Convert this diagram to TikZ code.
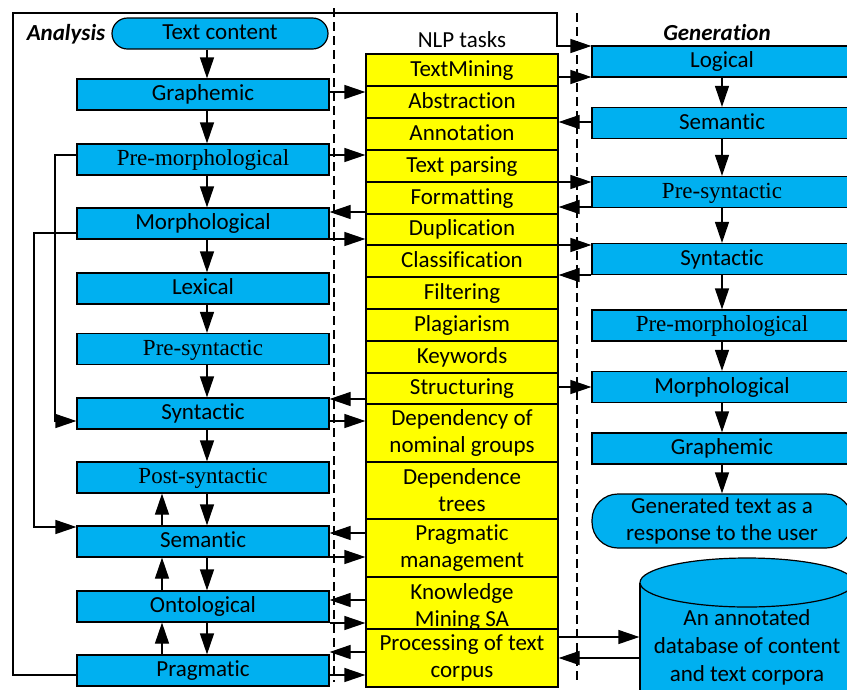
\documentclass[tikz,border=0pt]{standalone}
\usepackage{fontspec}
\setmainfont{Carlito}[Ligatures={NoCommon,NoContextual}]
\newfontfamily\serifrm{Liberation Serif}
\usetikzlibrary{arrows.meta}
\definecolor{bxblue}{HTML}{00B0F0}
\definecolor{bxyellow}{HTML}{FFFF00}
\begin{document}
\begin{tikzpicture}[x=1pt,y=-1pt,line width=1.2pt,
  every node/.style={font=\fontsize{23}{27}\selectfont, inner sep=0pt},
  arr/.style={-{Triangle[length=21pt,width=14pt]}},
  blbox/.style={draw, fill=bxblue, minimum height=31pt, text height=16pt, text depth=4pt},
  lbox/.style={blbox, minimum width=252pt},
  rbox/.style={blbox, minimum width=260pt},
  mbox/.style={draw, fill=bxyellow, minimum width=192pt, minimum height=32pt, text height=16pt, text depth=4pt},
  mbox2/.style={draw, fill=bxyellow, minimum width=192pt, align=center},
  divider/.style={dash pattern=on 9pt off 5pt},
  heading/.style={font=\fontsize{23}{27}\selectfont\bfseries\itshape}
]
\useasboundingbox (0,0) rectangle (847,689);
\clip (0,0) rectangle (847,689);

% dashed dividers
\draw[divider] (334,8) -- (334,682);
\draw[divider] (577,13) -- (577,684);

% coordinates for vertical arrow columns
\coordinate (dx) at (207,0);
\coordinate (ux) at (162,0);

% labels
\node[heading] (lanalysis) at (66,34) {Analysis};
\node (nlp) at (462,40) {NLP tasks};
\node[heading] (lgen) at (717,33) {Generation};

% left column
\node[blbox, rounded corners=15.5pt, minimum width=216pt] (ltext) at (220,33.5) {Text content};
\node[lbox] (lgraph) at (203,94.5) {Graphemic};
\node[lbox] (lpremorph) at (203,159.5) {\serifrm Pre-morphological};
\node[lbox] (lmorph) at (203,223.5) {Morphological};
\node[lbox] (llex) at (203,288.5) {Lexical};
\node[lbox] (lpresyn) at (203,349) {\serifrm Pre-syntactic};
\node[lbox] (lsyn) at (203,413.5) {Syntactic};
\node[lbox] (lpostsyn) at (203,477.5) {\serifrm Post-syntactic};
\node[lbox] (lsem) at (203,541.5) {Semantic};
\node[lbox] (lonto) at (203,606.5) {Ontological};
\node[lbox] (lprag) at (203,670.5) {Pragmatic};

% middle column
\node[mbox] (mtm) at (462,70) {TextMining};
\node[mbox] (mabs) at (462,102) {Abstraction};
\node[mbox] (mann) at (462,134) {Annotation};
\node[mbox] (mparse) at (462,166) {Text parsing};
\node[mbox] (mform) at (462,198) {Formatting};
\node[mbox, minimum height=31pt] (mdup) at (462,229.5) {Duplication};
\node[mbox] (mclass) at (462,261) {Classification};
\node[mbox] (mfilt) at (462,293) {Filtering};
\node[mbox] (mplag) at (462,325) {Plagiarism};
\node[mbox] (mkey) at (462,357) {Keywords};
\node[mbox, minimum height=31pt] (mstruct) at (462,388.5) {Structuring};
\node[mbox2, minimum height=58pt] (mdep) at (462,433) {Dependency of\\nominal groups};
\node[mbox2, minimum height=57pt] (mtree) at (462,490.5) {Dependence\\trees};
\node[mbox2, minimum height=58pt] (mprag) at (462,548) {Pragmatic\\management};
\node[mbox2, minimum height=52pt] (mknow) at (462,603) {};
\node[align=center] (mknowtxt) at (462,607) {Knowledge\\Mining SA};
\node[mbox2, minimum height=58pt] (mproc) at (462,658) {Processing of text\\corpus};

% right column
\node[rbox] (rlog) at (722,61.5) {Logical};
\node[rbox] (rsem) at (722,123) {Semantic};
\node[rbox] (rpresyn) at (722,192) {\serifrm Pre-syntactic};
\node[rbox] (rsyn) at (722,259) {Syntactic};
\node[rbox] (rpremorph) at (722,325.5) {\serifrm Pre-morphological};
\node[rbox] (rmorph) at (722,387) {Morphological};
\node[rbox] (rgraph) at (722,448.5) {Graphemic};
\node[draw, fill=bxblue, rounded corners=26pt, minimum width=260pt, minimum height=54pt, align=center] (rgen) at (722,521) {Generated text as a\\response to the user};

% database cylinder
\fill[bxblue] (640,582.5) rectangle (854,760);
\draw (640,582.5) -- (640,760) (854,582.5) -- (854,760);
\filldraw[fill=bxblue] (747,582.5) ellipse [x radius=107pt, y radius=24.5pt];
\node[minimum width=214pt, align=center, font=\fontsize{23}{28}\selectfont] (db) at (747,647) {An annotated\\database of content\\and text corpora};

% left column vertical arrows
\draw[arr] (ltext.south -| dx) -- (lgraph.north -| dx);
\draw[arr] (lgraph.south -| dx) -- (lpremorph.north -| dx);
\draw[arr] (lpremorph.south -| dx) -- (lmorph.north -| dx);
\draw[arr] (lmorph.south -| dx) -- (llex.north -| dx);
\draw[arr] (llex.south -| dx) -- (lpresyn.north -| dx);
\draw[arr] (lpresyn.south -| dx) -- (lsyn.north -| dx);
\draw[arr] (lsyn.south -| dx) -- (lpostsyn.north -| dx);
\draw[arr] (lpostsyn.south -| dx) -- (lsem.north -| dx);
\draw[arr] (lsem.south -| dx) -- (lonto.north -| dx);
\draw[arr] (lonto.south -| dx) -- (lprag.north -| dx);
\draw[arr] (lsem.north -| ux) -- (lpostsyn.south -| ux);
\draw[arr] (lonto.north -| ux) -- (lsem.south -| ux);
\draw[arr] (lprag.north -| ux) -- (lonto.south -| ux);

% left feedback loops
\draw[arr] (lpremorph.west |- 0,155) -- (55,155) -- (55,421) -- (lsyn.west |- 0,421);
\draw[arr] (lmorph.west |- 0,233) -- (34,233) -- (34,527) -- (lsem.west |- 0,527);
\draw[arr] (lprag.west |- 0,675) -- (13,675) -- (13,13) -- (557,13) -- (557,46) -- (rlog.west |- 0,46);

% left <-> middle
\draw[arr] (lgraph.east |- 0,92) -- (mabs.west |- 0,92);
\draw[arr] (lpremorph.east |- 0,155) -- (mparse.west |- 0,155);
\draw[arr] (mform.west |- 0,212) -- (lmorph.east |- 0,212);
\draw[arr] (lmorph.east |- 0,239) -- (mdup.west |- 0,239);
\draw[arr] (mstruct.west |- 0,399) -- (lsyn.east |- 0,399);
\draw[arr] (lsyn.east |- 0,421) -- (mdep.west |- 0,421);
\draw[arr] (mprag.west |- 0,533) -- (lsem.east |- 0,533);
\draw[arr] (lsem.east |- 0,557) -- (mprag.west |- 0,557);
\draw[arr] (mknow.west |- 0,600) -- (lonto.east |- 0,600);
\draw[arr] (lonto.east |- 0,623) -- (mknow.west |- 0,623);
\draw[arr] (mproc.west |- 0,652) -- (lprag.east |- 0,652);
\draw[arr] (lprag.east |- 0,675) -- (mproc.west |- 0,675);

% middle <-> right
\draw[arr] (mtm.east |- 0,77) -- (rlog.west |- 0,77);
\draw[arr] (rsem.west |- 0,122) -- (mann.east |- 0,122);
\draw[arr] (mform.east |- 0,182) -- (rpresyn.west |- 0,182);
\draw[arr] (rpresyn.west |- 0,207) -- (mform.east |- 0,207);
\draw[arr] (mdup.east |- 0,245) -- (rsyn.west |- 0,245);
\draw[arr] (rsyn.west |- 0,275) -- (mclass.east |- 0,275);
\draw[arr] (mstruct.east |- 0,387) -- (rmorph.west |- 0,387);
\draw[arr] (mproc.east |- 0,637) -- (db.west |- 0,637);
\draw[arr] (db.west |- 0,658) -- (mproc.east |- 0,658);

% right column vertical arrows
\draw[arr] (rlog) -- (rsem);
\draw[arr] (rsem) -- (rpresyn);
\draw[arr] (rpresyn) -- (rsyn);
\draw[arr] (rsyn) -- (rpremorph);
\draw[arr] (rpremorph) -- (rmorph);
\draw[arr] (rmorph) -- (rgraph);
\draw[arr] (rgraph) -- (rgen);
\end{tikzpicture}
\end{document}
